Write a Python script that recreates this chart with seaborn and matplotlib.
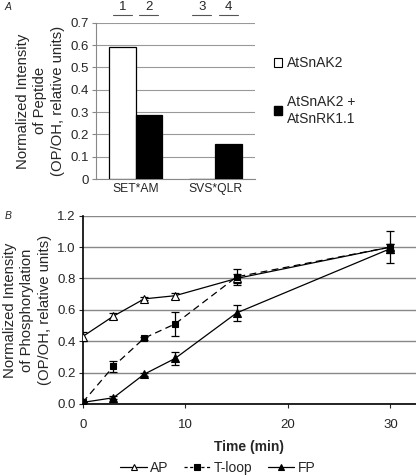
import numpy as np
import pandas as pd
import matplotlib
matplotlib.use("Agg")
import matplotlib.pyplot as plt
import matplotlib.transforms as mtransforms
from matplotlib.patches import Patch
from matplotlib.lines import Line2D
import seaborn as sns

sns.set_style("white")
plt.rcParams['font.family'] = ['Liberation Sans', 'DejaVu Sans']

# ---------------------------------------------------
# Data, panel A
# ---------------------------------------------------
peptides = ["SET*AM", "SVS*QLR"]
conditions = ["AtSnAK2", "AtSnAK2 +\nAtSnRK1.1"]
alone_vals = [0.59, 0.0]
combo_vals = [0.285, 0.155]
lane_labels = ["1", "2", "3", "4"]

# ---------------------------------------------------
# Data, panel B
# ---------------------------------------------------
time_min = [0, 3, 6, 9, 15, 30]
ap_vals = [0.43, 0.56, 0.67, 0.69, 0.80, 1.00]
ap_err = [0.03, 0.02, 0.01, 0.02, 0.03, 0.02]
tloop_vals = [0.01, 0.24, 0.42, 0.51, 0.81, 1.00]
tloop_err = [0.0, 0.035, 0.01, 0.075, 0.05, 0.10]
fp_vals = [0.01, 0.04, 0.19, 0.29, 0.58, 0.99]
fp_err = [0.0, 0.01, 0.01, 0.04, 0.05, 0.03]

W, H = 416, 476
fig = plt.figure(figsize=(W / 100, H / 100), dpi=100)

def px_axes(x0, y0, x1, y1):
    # pixel box (top-left origin) -> figure axes
    return fig.add_axes([x0 / W, 1 - y1 / H, (x1 - x0) / W, (y1 - y0) / H])

# ---------------------------------------------------
# Panel A: bars
# ---------------------------------------------------
axA = px_axes(95.7, 22.7, 255, 179)
dfA = pd.DataFrame({
    "peptide": peptides * 2,
    "condition": [conditions[0]] * 2 + [conditions[1]] * 2,
    "value": alone_vals + combo_vals,
})
sns.barplot(data=dfA, x="peptide", y="value", hue="condition",
            hue_order=conditions, palette=["white", "black"],
            edgecolor="black", linewidth=0.9, width=0.667, gap=0,
            legend=False, ax=axA, zorder=3)
axA.set_ylim(0, 0.7)
axA.set_xlim(-0.5, 1.5)
axA.set_yticks(np.arange(0, 0.71, 0.1))
axA.set_yticklabels(["0"] + [f"{v:.1f}" for v in np.arange(0.1, 0.71, 0.1)],
                    fontsize=9.5)
axA.tick_params(axis="x", labelsize=8.7, length=0, pad=3)
axA.tick_params(axis="y", length=3, width=0.8, color="#888888", pad=2,
                left=True)
axA.grid(axis="y", color="#999999", linewidth=0.8, zorder=0)
axA.set_axisbelow(True)
for s in ["top", "right"]:
    axA.spines[s].set_visible(False)
for s in ["left", "bottom"]:
    axA.spines[s].set_color("#888888")
    axA.spines[s].set_linewidth(0.8)
axA.set_xlabel("")
axA.set_ylabel("Normalized Intensity\nof Peptide\n(OP/OH, relative units)",
               fontsize=10.7, labelpad=4, linespacing=1.3)

# lane numbers with underlines above each bar slot
centers = sorted(p.get_x() + p.get_width() / 2 for p in axA.patches)
bw = axA.patches[0].get_width()
trA = mtransforms.blended_transform_factory(axA.transData, axA.transAxes)
for c, lab in zip(centers, lane_labels):
    axA.text(c, 1.10, lab, transform=trA, ha="center", va="center",
             fontsize=9.5, clip_on=False)
    axA.plot([c - 0.36 * bw, c + 0.36 * bw], [1.05, 1.05], transform=trA,
             color="#555555", linewidth=0.8, clip_on=False)

axA.legend(handles=[Patch(facecolor="white", edgecolor="black", linewidth=0.8),
                    Patch(facecolor="black", edgecolor="black")],
           labels=conditions, loc="upper left",
           bbox_to_anchor=(1.12, 0.785), frameon=False, fontsize=10,
           handlelength=0.6, handleheight=0.6, handletextpad=0.3,
           labelspacing=1.75, borderaxespad=0, borderpad=0)
for t in axA.get_legend().get_texts():
    t.set_linespacing(1.3)

# ---------------------------------------------------
# Panel B: time course
# ---------------------------------------------------
axB = px_axes(82.7, 215.7, 416, 404)
dash = (0, (5.5, 3.5))
series = [
    ("AP", ap_vals, ap_err, "^", "white", "-", 5.5),
    ("T-loop", tloop_vals, tloop_err, "s", "black", dash, 4.5),
    ("FP", fp_vals, fp_err, "^", "black", "-", 5.5),
]
handles = []
for name, vals, err, mk, mfc, ls, ms in series:
    dfB = pd.DataFrame({"time": time_min, "value": vals})
    sns.lineplot(data=dfB, x="time", y="value", ax=axB, color="black",
                 linestyle=ls, linewidth=0.9, marker=mk, markersize=ms,
                 markerfacecolor=mfc, markeredgecolor="black",
                 markeredgewidth=0.8, zorder=4, errorbar=None)
    axB.errorbar(time_min, vals, yerr=err, fmt="none", ecolor="black",
                 elinewidth=0.9, capsize=3, capthick=0.9, zorder=3)
    handles.append(Line2D([], [], color="black",
                          linestyle=(0, (2.5, 2)) if ls == dash else ls,
                          linewidth=0.9, marker=mk, markersize=ms - 0.5,
                          markerfacecolor=mfc, markeredgecolor="black",
                          markeredgewidth=0.8))

axB.set_xlim(0, 32.5)
axB.set_ylim(0, 1.2)
axB.set_xticks([0, 10, 20, 30])
axB.set_yticks(np.arange(0, 1.21, 0.2))
axB.set_yticklabels([f"{v:.1f}" for v in np.arange(0, 1.21, 0.2)], fontsize=9.5)
axB.tick_params(axis="x", labelsize=9.5, length=3, width=0.8, pad=8,
                bottom=True)
axB.tick_params(axis="y", length=3, width=0.8, pad=2, left=True)
axB.grid(axis="y", color="#888888", linewidth=1.0, zorder=0)
axB.set_axisbelow(True)
for s in ["top", "right"]:
    axB.spines[s].set_visible(False)
for s in ["left", "bottom"]:
    axB.spines[s].set_color("black")
    axB.spines[s].set_linewidth(1.2)
axB.set_xlabel("Time (min)", fontsize=10, fontweight="bold", labelpad=6)
axB.set_ylabel("Normalized Intensity\nof Phosphorylation\n(OP/OH, relative units)",
               fontsize=10.7, labelpad=4, linespacing=1.3)

fig.legend(handles=handles, labels=[s[0] for s in series], loc="center",
           bbox_to_anchor=(218 / W, 1 - 468 / H), ncol=3, frameon=False,
           fontsize=10, handlelength=1.9, handletextpad=0.25,
           columnspacing=1.1)

# panel letters
fig.text(5 / W, 1 - 7 / H, "A", fontsize=7.5, style="italic", va="center")
fig.text(5 / W, 1 - 216 / H, "B", fontsize=7.5, style="italic", va="center")

fig.savefig("out.png", dpi=100)
